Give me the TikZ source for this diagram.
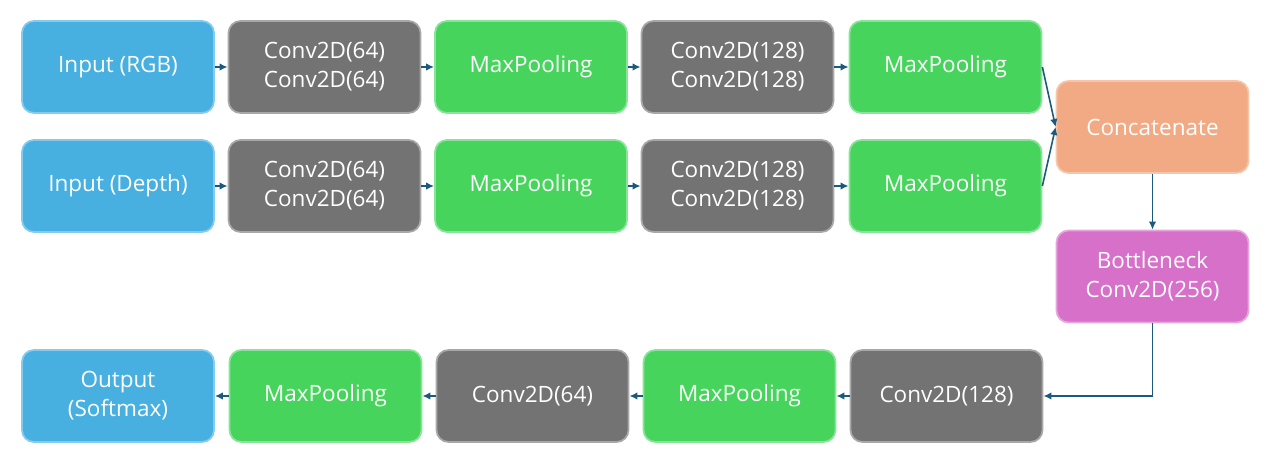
\documentclass[tikz,border=0pt]{standalone}
\usepackage{fontspec}
\setmainfont{Open Sans}
\usetikzlibrary{positioning, arrows.meta}
\definecolor{inblue}{HTML}{47B0E0}
\definecolor{inblueb}{HTML}{86CBEE}
\definecolor{convgray}{HTML}{737373}
\definecolor{convgrayb}{HTML}{A8A8A8}
\definecolor{poolgreen}{HTML}{47D45C}
\definecolor{poolgreenb}{HTML}{8AE39A}
\definecolor{catorange}{HTML}{F1AA84}
\definecolor{catorangeb}{HTML}{F6C6AB}
\definecolor{bnpink}{HTML}{D670C8}
\definecolor{bnpinkb}{HTML}{E6A6DD}
\definecolor{arrowblue}{HTML}{1B5A7E}
\tikzset{
    layer/.style={rounded corners=0.24cm, line width=1pt, minimum width=3.84cm, minimum height=1.84cm,
        align=center, text=white, font=\fontsize{12.8}{16.5}\selectfont, inner sep=0pt},
    inputbox/.style={layer, fill=inblue, draw=inblueb},
    convbox/.style={layer, fill=convgray, draw=convgrayb},
    poolbox/.style={layer, fill=poolgreen, draw=poolgreenb},
    catbox/.style={layer, fill=catorange, draw=catorangeb},
    bnbox/.style={layer, fill=bnpink, draw=bnpinkb},
    flow/.style={-{Latex[length=1.6mm, width=1.5mm]}, draw=arrowblue, line width=0.9pt}
}
\begin{document}
\begin{tikzpicture}
    % Canvas
    \useasboundingbox[fill=white] (0,0) rectangle (25.4,9.24);

    % RGB branch
    \node[inputbox] (inrgb) at (2.36,7.9) {Input (RGB)};
    \node[convbox] (convA1) at (6.49,7.9) {Conv2D(64)\\Conv2D(64)};
    \node[poolbox] (poolA1) at (10.62,7.9) {MaxPooling};
    \node[convbox] (convA2) at (14.75,7.9) {Conv2D(128)\\Conv2D(128)};
    \node[poolbox] (poolA2) at (18.91,7.9) {MaxPooling};

    % Depth branch
    \node[inputbox] (indepth) at (2.36,5.52) {Input (Depth)};
    \node[convbox] (convB1) at (6.49,5.52) {Conv2D(64)\\Conv2D(64)};
    \node[poolbox] (poolB1) at (10.62,5.52) {MaxPooling};
    \node[convbox] (convB2) at (14.75,5.52) {Conv2D(128)\\Conv2D(128)};
    \node[poolbox] (poolB2) at (18.91,5.52) {MaxPooling};

    % Fusion
    \node[catbox] (concat) at (23.05,6.7) {Concatenate};
    \node[bnbox] (bottleneck) at (23.05,3.71) {Bottleneck\\Conv2D(256)};

    % Decoder row
    \node[convbox] (convC1) at (18.93,1.32) {Conv2D(128)};
    \node[poolbox] (poolC1) at (14.79,1.32) {MaxPooling};
    \node[convbox] (convC2) at (10.65,1.32) {Conv2D(64)};
    \node[poolbox] (poolC2) at (6.51,1.32) {MaxPooling};
    \node[inputbox] (output) at (2.36,1.32) {Output\\(Softmax)};

    % Connectors
    \draw[flow] (inrgb) -- (convA1);
    \draw[flow] (convA1) -- (poolA1);
    \draw[flow] (poolA1) -- (convA2);
    \draw[flow] (convA2) -- (poolA2);
    \draw[flow] (indepth) -- (convB1);
    \draw[flow] (convB1) -- (poolB1);
    \draw[flow] (poolB1) -- (convB2);
    \draw[flow] (convB2) -- (poolB2);
    \draw[flow] (poolA2.east) -- (concat.west);
    \draw[flow] (poolB2.east) -- (concat.west);
    \draw[flow] (concat) -- (bottleneck);
    \draw[flow] (bottleneck.south) |- (convC1.east);
    \draw[flow] (convC1) -- (poolC1);
    \draw[flow] (poolC1) -- (convC2);
    \draw[flow] (convC2) -- (poolC2);
    \draw[flow] (poolC2) -- (output);
\end{tikzpicture}
\end{document}
